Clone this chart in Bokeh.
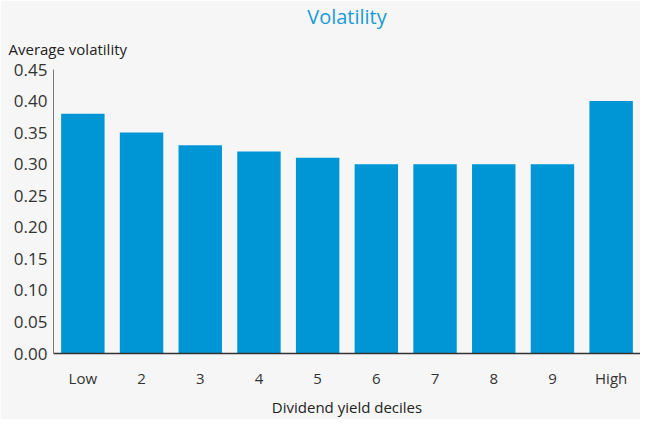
from bokeh.plotting import figure
from bokeh.models import FixedTicker, NumeralTickFormatter, Title
from bokeh.embed import file_html
from bokeh.resources import INLINE

categories = ["Low", "2", "3", "4", "5", "6", "7", "8", "9", "High"]
volatility = [0.38, 0.35, 0.33, 0.32, 0.31, 0.30, 0.30, 0.30, 0.30, 0.40]
y_ticks = [0.0, 0.05, 0.10, 0.15, 0.20, 0.25, 0.30, 0.35, 0.40, 0.45]

FONT = "Open Sans"
BG = "#f6f6f6"
BLUE = "#0096d6"

p = figure(x_range=categories, y_range=(0, 0.45), width=640, height=419,
           output_backend="svg", toolbar_location=None,
           background_fill_color=BG, border_fill_color=BG,
           min_border_left=53, min_border_right=0, min_border_top=0,
           min_border_bottom=0)
p.outline_line_color = None

p.vbar(x=categories, top=volatility, width=0.74, color=BLUE, line_color=None)

p.add_layout(Title(text="Average volatility", align="left", offset=-45, standoff=18,
                   vertical_align="top",
                   text_font=FONT, text_font_size="15px", text_font_style="normal",
                   text_color="#222222"), "above")
p.add_layout(Title(text="Volatility", align="center", standoff=0,
                   text_font=FONT, text_font_size="20px", text_font_style="normal",
                   text_color="#1a9ad6"), "above")

p.xgrid.visible = False
p.ygrid.visible = False

p.yaxis.ticker = FixedTicker(ticks=y_ticks)
p.yaxis.formatter = NumeralTickFormatter(format="0.00")
p.yaxis.major_tick_line_color = None
p.yaxis.minor_tick_line_color = None
p.yaxis.major_tick_out = 0
p.yaxis.major_tick_in = 0
p.yaxis.axis_line_color = "#777777"
p.yaxis.major_label_text_font = FONT
p.yaxis.major_label_text_font_size = "17px"
p.yaxis.major_label_text_color = "#333333"
p.yaxis.major_label_standoff = 6

p.xaxis.major_tick_line_color = None
p.xaxis.major_tick_out = 0
p.xaxis.major_tick_in = 0
p.xaxis.axis_line_color = "#333333"
p.xaxis.axis_line_width = 1.5
p.xaxis.major_label_text_font = FONT
p.xaxis.major_label_text_font_size = "15px"
p.xaxis.major_label_text_color = "#333333"
p.xaxis.major_label_standoff = 14
p.xaxis.axis_label = "Dividend yield deciles"
p.xaxis.axis_label_text_font = FONT
p.xaxis.axis_label_text_font_size = "15px"
p.xaxis.axis_label_text_font_style = "normal"
p.xaxis.axis_label_text_color = "#222222"
p.xaxis.axis_label_standoff = 6

open("out.html", "w").write(file_html(p, INLINE))
